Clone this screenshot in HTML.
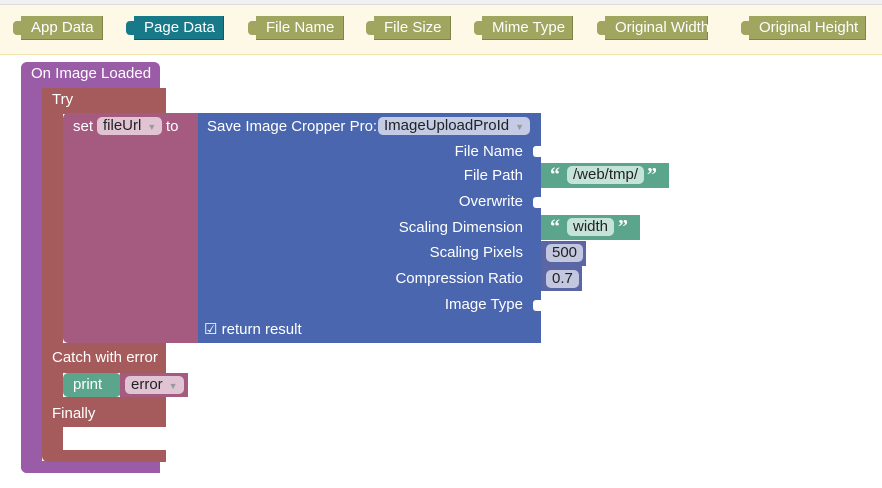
<!DOCTYPE html><html><head><style>
body{margin:0;width:882px;height:488px;background:#fff;position:relative;overflow:hidden;font-family:"Liberation Sans",Arial,sans-serif;font-size:15px;color:#fff}
div{position:absolute;box-sizing:border-box}
.t{white-space:nowrap;line-height:16px}
.tb{top:16px;height:24px;background:#a0a55f;padding:4px 0 0 10px;border-right:1px solid #7f8447;border-bottom:1px solid #7f8447}
.tb:before{content:"";position:absolute;left:-8px;top:5px;width:8px;height:14px;background:inherit;border-radius:4px 0 0 4px}
.dd{background:#e1c4d4;color:#222;border-radius:5px;height:18px;padding:1px 6px;line-height:16px}
.dd b{font-weight:normal;color:#999;font-size:9px;margin-left:6px}
.r{right:0;text-align:right}
</style></head><body>
<div style="left:0;top:0;width:882px;height:5px;background:#f0f0f0;border-bottom:1px solid #ddd"></div>
<div style="left:0;top:5px;width:882px;height:50px;background:#fef8e6;border-bottom:1px solid #f3e3b0"></div>
<div class="tb t" style="left:21px;width:82px">App Data</div>
<div class="tb t" style="left:134px;width:90px;background:#187a88;border-color:#105a65">Page Data</div>
<div class="tb t" style="left:256px;width:88px">File Name</div>
<div class="tb t" style="left:374px;width:77px">File Size</div>
<div class="tb t" style="left:482px;width:91px">Mime Type</div>
<div class="tb t" style="left:605px;width:103px">Original Width</div>
<div class="tb t" style="left:749px;width:117px">Original Height</div>

<div style="left:21px;top:62px;width:139px;height:26px;background:#9a5ca6;border-radius:6px 6px 0 0"></div>
<div class="t" style="left:31px;top:66px">On Image Loaded</div>
<div style="left:21px;top:86px;width:21px;height:387px;background:#9a5ca6;border-radius:0 0 0 6px"></div>
<div style="left:21px;top:461px;width:139px;height:12px;background:#9a5ca6;border-radius:0 0 0 6px"></div>

<div style="left:42px;top:88px;width:21px;height:373px;background:#a55b5b;border-radius:0 0 0 6px"></div>
<div style="left:42px;top:88px;width:124px;height:26px;background:#a55b5b"></div>
<div class="t" style="left:52px;top:92px">Try</div>
<div style="left:42px;top:343px;width:124px;height:30px;background:#a55b5b"></div>
<div class="t" style="left:52px;top:350px">Catch with error</div>
<div style="left:42px;top:397px;width:124px;height:30px;background:#a55b5b"></div>
<div class="t" style="left:52px;top:406px">Finally</div>
<div style="left:42px;top:450px;width:124px;height:12px;background:#a55b5b;border-radius:0 0 0 6px"></div>

<div style="left:63px;top:373px;width:58px;height:24px;background:#5ba58c;border-radius:5px"></div>
<div class="t" style="left:73px;top:377px">print</div>
<div style="left:120px;top:373px;width:68px;height:24px;background:#a55b80"></div>
<div class="dd" style="left:125px;top:376px">error<b>▼</b></div>

<div style="left:63px;top:113px;width:136px;height:230px;background:#a55b80;border-radius:5px 0 0 5px"></div>
<div class="t" style="left:73px;top:119px">set</div>
<div class="dd" style="left:97px;top:117px">fileUrl<b>▼</b></div>
<div class="t" style="left:166px;top:119px">to</div>

<div style="left:198px;top:113px;width:343px;height:230px;background:#4a66ae"></div>
<div class="t" style="left:207px;top:119px">Save Image Cropper Pro:</div>
<div class="dd" style="left:378px;top:117px;background:#c3cbe5">ImageUploadProId<b>▼</b></div>
<div style="left:198px;top:143px;width:325px;height:180px">
<div class="t r" style="top:1px">File Name</div>
<div class="t r" style="top:25px">File Path</div>
<div class="t r" style="top:51px">Overwrite</div>
<div class="t r" style="top:77px">Scaling Dimension</div>
<div class="t r" style="top:102px">Scaling Pixels</div>
<div class="t r" style="top:128px">Compression Ratio</div>
<div class="t r" style="top:154px">Image Type</div>
</div>
<div style="left:533px;top:146px;width:8px;height:11px;background:#fff;border-radius:3px 0 0 3px"></div>
<div style="left:533px;top:197px;width:8px;height:11px;background:#fff;border-radius:3px 0 0 3px"></div>
<div style="left:533px;top:300px;width:8px;height:11px;background:#fff;border-radius:3px 0 0 3px"></div>
<div class="t" style="left:204px;top:322px">☑ return result</div>

<div style="left:541px;top:163px;width:128px;height:25px;background:#5ba58c"></div>
<div class="t" style="left:550px;top:167px;font-weight:bold;font-family:'Liberation Serif',serif;font-size:20px">“</div>
<div class="dd" style="left:567px;top:166px;background:#c6e3d9">/web/tmp/</div>
<div class="t" style="left:647px;top:167px;font-weight:bold;font-family:'Liberation Serif',serif;font-size:20px">”</div>
<div style="left:541px;top:215px;width:99px;height:25px;background:#5ba58c"></div>
<div class="t" style="left:550px;top:219px;font-weight:bold;font-family:'Liberation Serif',serif;font-size:20px">“</div>
<div class="dd" style="left:567px;top:218px;background:#c6e3d9">width</div>
<div class="t" style="left:618px;top:219px;font-weight:bold;font-family:'Liberation Serif',serif;font-size:20px">”</div>
<div style="left:541px;top:241px;width:45px;height:25px;background:#5b67a5"></div>
<div class="dd" style="left:546px;top:244px;background:#c3c7e0">500</div>
<div style="left:541px;top:266px;width:41px;height:25px;background:#5b67a5"></div>
<div class="dd" style="left:546px;top:270px;background:#c3c7e0">0.7</div>
</body></html>
